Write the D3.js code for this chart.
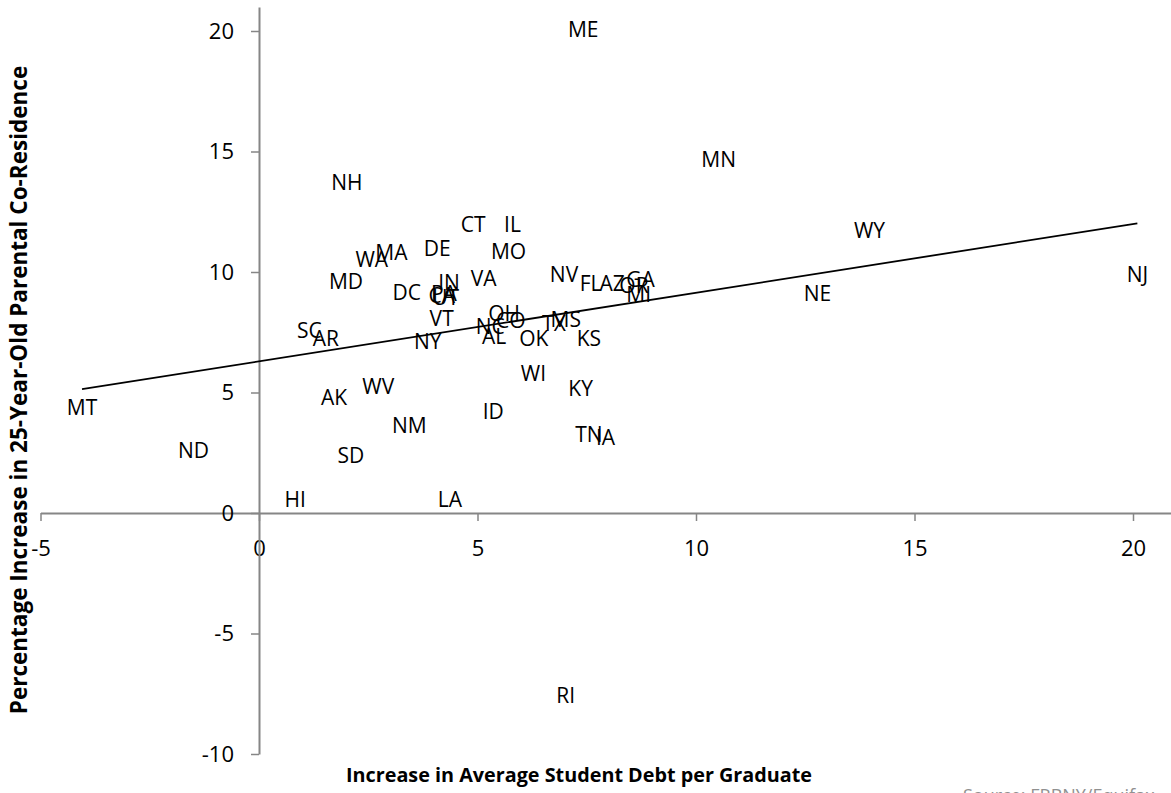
<!DOCTYPE html>
<html><head><meta charset="utf-8">
<script src="https://cdn.jsdelivr.net/npm/d3@7"></script>
<style>body{margin:0;background:#fff;} svg{display:block;}</style>
</head><body>
<svg id="chart" width="1171" height="793"></svg>
<script>
const states = ["ME","MN","NH","CT","IL","DE","MO","MA","WA","WY","MD","DC","IN","CA","PA","UT","VA","NV","FL","AZ","GA","OR","MI","NE","NJ","SC","AR","VT","OH","NC","CO","TX","MS","NY","AL","OK","KS","WI","KY","MT","AK","WV","ID","NM","TN","IA","ND","SD","HI","LA","RI"];
const debtIncrease = [7.42,10.52,2.01,4.90,5.80,4.08,5.71,3.03,2.58,13.97,1.99,3.38,4.35,4.18,4.23,4.27,5.14,6.98,7.59,8.08,8.73,8.58,8.69,12.78,20.10,1.15,1.53,4.18,5.61,5.29,5.76,6.75,7.02,3.86,5.38,6.29,7.55,6.28,7.36,-4.05,1.72,2.73,5.36,3.44,7.55,7.93,-1.50,2.10,0.83,4.37,7.02];
const coResidenceIncrease = [20.08,14.65,13.72,11.99,11.99,10.98,10.84,10.82,10.53,11.74,9.60,9.14,9.56,9.04,9.13,8.96,9.74,9.88,9.53,9.54,9.70,9.46,9.05,9.09,9.88,7.59,7.25,8.08,8.29,7.76,8.01,7.87,8.04,7.11,7.32,7.25,7.25,5.80,5.17,4.40,4.78,5.24,4.23,3.65,3.28,3.14,2.59,2.38,0.57,0.57,-7.55];
const xTicks = [-5,0,5,10,15,20];
const yTicks = [-10,-5,0,5,10,15,20];
const trendSlope = 0.285;
const trendIntercept = 6.29;
const xTitle = "Increase in Average Student Debt per Graduate";
const yTitle = "Percentage Increase in 25-Year-Old Parental Co-Residence";
const sourceText = "Source: FRBNY/Equifax";

const svg = d3.select("#chart");
const FONT = "'Open Sans', 'DejaVu Sans', sans-serif";
const x = d3.scaleLinear().domain([-5, 21]).range([40.5, 1176.7]);
const y = d3.scaleLinear().domain([-10, 21]).range([754, 6.9]);
const axisColor = "#868686";
const fmt = d => String(d);

const xAxis = svg.append("g").attr("transform", `translate(0,${y(0)})`)
  .call(d3.axisBottom(x).tickValues(xTicks).tickSize(8).tickSizeOuter(0).tickPadding(19).tickFormat(fmt));
const yAxis = svg.append("g").attr("transform", `translate(${x(0)},0)`)
  .call(d3.axisLeft(y).tickValues(yTicks).tickSize(8).tickSizeOuter(0).tickPadding(17).tickFormat(fmt));
[xAxis, yAxis].forEach(g => {
  g.select(".domain").attr("stroke", axisColor).attr("stroke-width", 2);
  g.selectAll(".tick line").attr("stroke", axisColor).attr("stroke-width", 1.5);
  g.selectAll(".tick text").attr("fill", "#000").style("font-family", FONT).style("font-size", "22px");
});
yAxis.selectAll(".tick text").attr("dy", "0.34em");

// trend line
const xExt = d3.extent(debtIncrease);
svg.append("line")
  .attr("x1", x(xExt[0])).attr("y1", y(trendIntercept + trendSlope * xExt[0]))
  .attr("x2", x(xExt[1])).attr("y2", y(trendIntercept + trendSlope * xExt[1]))
  .attr("stroke", "#000").attr("stroke-width", 1.8);

// labels
svg.append("g").selectAll("text").data(states).join("text")
  .attr("x", (d, i) => x(debtIncrease[i]))
  .attr("y", (d, i) => y(coResidenceIncrease[i]))
  .attr("text-anchor", "middle").attr("dy", "0.36em")
  .style("font-family", FONT).style("font-size", "21px").attr("fill", "#000")
  .text(d => d);

svg.append("text").attr("x", 579).attr("y", 782).attr("text-anchor", "middle")
  .style("font-family", FONT).style("font-size", "19.8px").style("font-weight", "bold").text(xTitle);
svg.append("text").attr("transform", "translate(27,390) rotate(-90)").attr("text-anchor", "middle")
  .style("font-family", FONT).style("font-size", "22.5px").style("font-weight", "bold").text(yTitle);
svg.append("text").attr("x", 963).attr("y", 802)
  .style("font-family", FONT).style("font-size", "18px").attr("fill", "#909090").text(sourceText);
</script>
</body></html>
